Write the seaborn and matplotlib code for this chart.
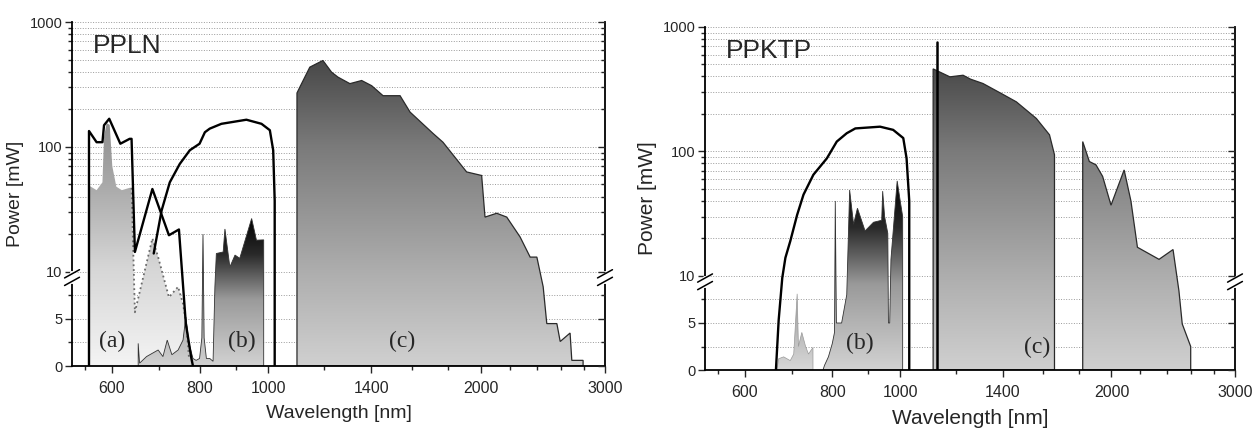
import numpy as np
import matplotlib
matplotlib.use('Agg')
import matplotlib.pyplot as plt
import seaborn as sns
from matplotlib.colors import LinearSegmentedColormap
from matplotlib.ticker import NullFormatter

# ---- PPLN panel (wavelength nm, power mW) ----
ppln_a_line_wl = [557, 557, 571, 582, 585, 595, 617, 636, 640, 647, 685, 723, 747, 764, 778, 782]
ppln_a_line_p = [0, 134, 109, 109, 149, 168, 106, 116, 116, 14.4, 46, 19.6, 21.8, 4.5, 0.8, 0]

ppln_a_fill_wl = [557, 557, 571, 582, 585, 590, 596, 601, 609, 620, 636, 640, 647, 685, 698, 723, 745, 757,
                  765, 772, 776]
ppln_a_fill_p = [0, 49, 45, 52, 120, 155, 150, 70, 48, 45, 47, 47, 5.7, 18.5, 13.1, 7.3, 8.4, 6.6,
                 4.5, 0.8, 0]

ppln_b_env_wl = [688, 692, 706, 725, 749, 774, 799, 813, 826, 858, 931, 978, 1005, 1016, 1021, 1021]
ppln_b_env_p = [14, 16.8, 31, 52, 73, 94, 106, 131, 140, 153, 165, 153, 136, 94, 37, 0]

ppln_b_fill_wl = [654, 654, 657, 672, 683, 698, 709, 719, 730, 745, 757, 764, 772, 782, 790, 799, 805, 808, 811,
                  817, 826, 835, 840, 844, 863, 868, 882, 897, 911, 947, 962, 985, 985]
ppln_b_fill_p = [0, 2.4, 0.3, 1.0, 1.3, 1.7, 1.0, 2.75, 1.2, 1.7, 2.75, 5.2, 2.4, 0.8, 0.6, 0.8, 3, 20, 3,
                 0.8, 0.8, 0.5, 8.4, 14, 14.4, 22, 10.9, 13.6, 12.8, 26.7, 17.9, 18, 0]

ppln_c_wl = [1098, 1098, 1108, 1145, 1170, 1195, 1229, 1255, 1305, 1356, 1401, 1454, 1537, 1588, 1712, 1768,
             1910, 2006, 2028, 2107, 2177, 2274, 2350, 2402, 2452, 2481, 2564, 2592, 2677, 2692, 2793, 2793]
ppln_c_p = [0, 270, 300, 435, 463, 492, 397, 362, 321, 340, 309, 257, 257, 190, 128, 109,
            63, 59, 27.4, 29.4, 27.4, 19, 13.1, 13.1, 8.4, 4.5, 4.5, 2.6, 3.5, 0.6, 0.6, 0]

# ---- PPKTP panel ----
ppktp_a_wl = [667, 671, 682, 697, 705, 713, 716, 724, 733, 740, 751, 751]
ppktp_a_p = [0, 1.2, 1.4, 1.0, 1.7, 8.1, 2.5, 4.0, 2.5, 1.7, 2.4, 0]

ppktp_b_env_wl = [665, 671, 679, 686, 697, 713, 728, 752, 786, 812, 839, 863, 936, 977, 1010, 1021, 1030, 1030]
ppktp_b_env_p = [0, 5.3, 9.8, 14, 19, 31, 45, 65, 88, 120, 140, 153, 158, 149, 128, 88, 40, 0]

ppktp_b_fill_wl = [776, 780, 790, 800, 806, 808, 811, 825, 839, 847, 858, 869, 891, 916, 941, 944, 950,
                   960, 962, 966, 970, 990, 1000, 1008, 1008]
ppktp_b_fill_p = [0, 0.5, 1.4, 2.8, 4, 40, 5, 5, 8, 49, 26, 35, 23, 27, 28, 48, 30,
                  22, 5, 5, 13.6, 58, 40, 30, 0]

ppktp_c1_wl = [1114, 1114, 1177, 1229, 1260, 1312, 1393, 1464, 1563, 1632, 1659, 1659]
ppktp_c1_p = [0, 460, 397, 409, 380, 351, 292, 250, 184, 136, 94, 0]
ppktp_spike_wl = [1128, 1128]
ppktp_spike_p = [0, 760]

ppktp_c2_wl = [1820, 1820, 1860, 1901, 1943, 1997, 2085, 2132, 2178, 2338, 2448, 2496, 2523, 2594, 2594]
ppktp_c2_p = [0, 120, 83, 78, 63, 37, 71, 40, 17, 13.6, 16.3, 8.4, 4.9, 2.5, 0]

x_major = [600, 800, 1000, 1400, 2000, 3000]
x_minor = [550, 700, 900, 1200, 1600, 1800, 2200, 2400, 2600, 2800]
y_major = [0, 5, 10, 100, 1000]
y_minor = [2.5, 7.5] + list(range(20, 100, 10)) + list(range(200, 1000, 100))

# broken y axis: linear 0-10, log above 10
K = 0.755
YMAX = 1000


def fwd(y):
    y = np.asarray(y, dtype=float)
    return np.where(y <= 10, K * y / 10, K + np.log10(np.maximum(y, 10) / 10))


def inv(t):
    t = np.asarray(t, dtype=float)
    return np.where(t <= K, t / K * 10, 10 * 10 ** (np.maximum(t, K) - K))


C_STOPS = [(0, '#d0d0d0'), (0.27, '#aeaeae'), (0.64, '#7a7a7a'), (0.9, '#454545'), (1, '#333333')]
B_STOPS = [(0, '#d2d2d2'), (0.45, '#9a9a9a'), (0.75, '#2a2a2a'), (1, '#000000')]
A_STOPS = [(0, '#f4f4f4'), (0.4, '#d6d6d6'), (0.75, '#a8a8a8'), (1, '#8e8e8e')]


def grad_fill(ax, wl, p, stops, span, edge='none', lw=0.8, z=2):
    poly = ax.fill(wl, p, facecolor='none', edgecolor=edge, lw=lw, zorder=z + 0.1)[0]
    cmap = LinearSegmentedColormap.from_list('g', stops)
    top = float(fwd(span) / fwd(YMAX))
    im = ax.imshow(np.linspace(0, 1, 256).reshape(-1, 1), cmap=cmap, origin='lower', aspect='auto',
                   extent=[0, 1, 0, top], transform=ax.transAxes, zorder=z, interpolation='bilinear')
    im.set_clip_path(poly)


def line(ax, wl, p, **kw):
    sns.lineplot(x=wl, y=p, ax=ax, sort=False, estimator=None, **kw)


def setup(ax, title, xl_size, yl_size):
    ax.set_xscale('log')
    ax.set_yscale('function', functions=(fwd, inv))
    ax.set_xlim(527, 3000)
    ax.set_ylim(0, YMAX)
    ax.set_autoscale_on(False)
    for lv in y_minor + [5, 10, 100, 1000]:
        ax.axhline(lv, color='#9a9a9a', ls=':', lw=0.7, zorder=0.5)
    ax.set_xticks(x_major, [str(v) for v in x_major])
    ax.set_xticks(x_minor, minor=True)
    ax.xaxis.set_minor_formatter(NullFormatter())
    ax.set_yticks(y_major, [str(v) for v in y_major])
    ax.set_yticks(y_minor, minor=True)
    ax.yaxis.set_minor_formatter(NullFormatter())
    ax.tick_params(axis='x', which='major', labelsize=11.5, length=5, width=1, pad=6)
    ax.tick_params(axis='x', which='minor', length=3, width=1)
    ax.tick_params(axis='y', which='major', labelsize=10.5, length=5, width=1, pad=2)
    ax.tick_params(axis='y', which='minor', length=3, width=1)
    ax.spines['top'].set_visible(False)
    for s in ['left', 'bottom', 'right']:
        ax.spines[s].set_linewidth(1.3)
        ax.spines[s].set_color('black')
    ax.set_xlabel('Wavelength [nm]', fontsize=xl_size, labelpad=6)
    ax.set_ylabel('Power [mW]', fontsize=yl_size, labelpad=4)
    ax.text(0.04, 0.93, title, transform=ax.transAxes, fontsize=19, va='center', ha='left', zorder=6)

    # right-side ticks pointing inward
    ax2 = ax.twinx()
    ax2.set_yscale('function', functions=(fwd, inv))
    ax2.set_ylim(0, YMAX)
    ax2.set_yticks(y_major)
    ax2.set_yticks(y_minor, minor=True)
    ax2.yaxis.set_major_formatter(NullFormatter())
    ax2.yaxis.set_minor_formatter(NullFormatter())
    ax2.tick_params(axis='y', which='major', direction='in', length=5, width=1)
    ax2.tick_params(axis='y', which='minor', direction='in', length=3, width=1)
    for s in ax2.spines.values():
        s.set_visible(False)

    # break marks at 10 mW
    yb = float(fwd(10) / fwd(YMAX))
    for xs in (0, 1):
        ax.plot([xs, xs], [yb - 0.03, yb - 0.005], color='white', lw=3, transform=ax.transAxes,
                clip_on=False, zorder=7)
        for off in (-0.006, -0.028):
            ax.plot([xs - 0.014, xs + 0.014], [yb + off - 0.012, yb + off + 0.012], color='black', lw=1.1,
                    transform=ax.transAxes, clip_on=False, zorder=8)


sns.set_style('ticks')
plt.rcParams['font.family'] = ['Liberation Sans', 'DejaVu Sans']

fig = plt.figure(figsize=(12.57, 4.30), dpi=100)
ax1 = fig.add_axes([0.0573, 0.1488, 0.424, 0.800])
ax2 = fig.add_axes([0.5609, 0.1395, 0.4216, 0.798])

serif = dict(family=['Liberation Serif', 'DejaVu Serif'], fontsize=17, ha='center', va='center', zorder=6)

# --- PPLN ---
setup(ax1, 'PPLN', 14, 14)
grad_fill(ax1, ppln_a_fill_wl, ppln_a_fill_p, A_STOPS, 160)
ax1.plot(ppln_a_fill_wl[11:-1], ppln_a_fill_p[11:-1], color='#6a6a6a', ls=':', lw=1.3, zorder=2.5)
grad_fill(ax1, ppln_b_fill_wl, ppln_b_fill_p, B_STOPS, 27, edge='#333333', lw=0.6)
grad_fill(ax1, ppln_c_wl, ppln_c_p, C_STOPS, YMAX, edge='#2a2a2a', lw=0.9)
line(ax1, ppln_a_line_wl, ppln_a_line_p, color='black', lw=1.7, zorder=3)
line(ax1, ppln_b_env_wl, ppln_b_env_p, color='black', lw=1.7, zorder=3)
ax1.text(600, 2.6, '(a)', **serif)
ax1.text(917, 2.6, '(b)', **serif)
ax1.text(1546, 2.6, '(c)', **serif)

# --- PPKTP ---
setup(ax2, 'PPKTP', 15, 15)
grad_fill(ax2, ppktp_a_wl, ppktp_a_p, [(0, '#d8d8d8'), (1, '#8a8a8a')], 10, edge='#9a9a9a', lw=0.5)
grad_fill(ax2, ppktp_b_fill_wl, ppktp_b_fill_p, B_STOPS, 58, edge='#333333', lw=0.6)
grad_fill(ax2, ppktp_c1_wl, ppktp_c1_p, C_STOPS, YMAX, edge='#2a2a2a', lw=0.9)
grad_fill(ax2, ppktp_c2_wl, ppktp_c2_p, C_STOPS, YMAX, edge='#2a2a2a', lw=0.9)
line(ax2, ppktp_b_env_wl, ppktp_b_env_p, color='black', lw=1.7, zorder=3)
line(ax2, ppktp_spike_wl, ppktp_spike_p, color='black', lw=1.8, zorder=3)
ax2.text(877, 2.8, '(b)', **serif)
ax2.text(1569, 2.4, '(c)', **serif)

fig.savefig('out.png', dpi=100)
